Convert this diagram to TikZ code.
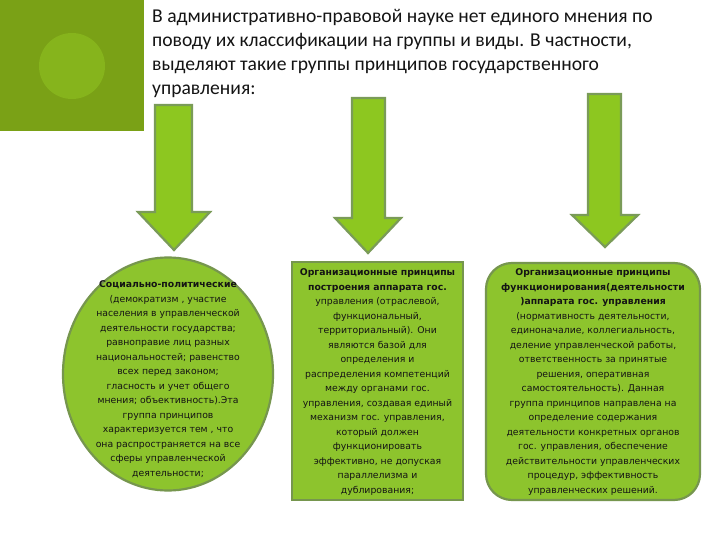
\documentclass[tikz,border=0pt]{standalone}
\usepackage{fontspec}
\setmainfont{Carlito}
\newfontfamily\boxfont{DejaVu Sans}
\usetikzlibrary{shapes.geometric}
\definecolor{headgreen}{RGB}{122,161,22}
\definecolor{dotgreen}{RGB}{134,180,28}
\definecolor{arrowfill}{RGB}{141,199,32}
\definecolor{arrowedge}{RGB}{122,155,88}
\definecolor{shapefill}{RGB}{141,196,45}
\definecolor{shapeedge}{RGB}{118,150,78}
\definecolor{ink}{RGB}{20,20,20}
\tikzset{
  blockarrow/.style={fill=arrowfill, draw=arrowedge, line width=2.2pt, line join=miter},
  groupshape/.style={fill=shapefill, draw=shapeedge, line width=2.2pt, inner sep=0pt},
  bodytext/.style={align=center, text=ink, inner sep=0pt,
    font=\boxfont\fontsize{9.3pt}{14.5pt}\selectfont},
}
\begin{document}
\begin{tikzpicture}[x=1pt,y=-1pt]
\useasboundingbox (0,0) rectangle (720,540);
\fill[white] (0,0) rectangle (720,540);
% header block
\node[fill=headgreen, minimum width=144pt, minimum height=131pt, anchor=north west, inner sep=0pt] (head) at (0,0) {};
\node[circle, fill=dotgreen, minimum size=66pt, inner sep=0pt] (dot) at (72,66) {};
\node[anchor=north west, align=left, inner sep=0pt, text=ink,
  font=\fontsize{19.6pt}{24pt}\selectfont] (title) at (152,9.5)
  {В административно-правовой науке нет единого мнения по\\
   поводу их классификации на группы и виды. В частности,\\
   выделяют такие группы принципов государственного\\
   управления:};
% arrows
\draw[blockarrow] (155,105) -- (192,105) -- (192,212) -- (210,212) -- (174,250) -- (138,212) -- (155,212) -- cycle;
\draw[blockarrow] (352,98) -- (385,98) -- (385,218) -- (401,218) -- (368,253) -- (335,218) -- (352,218) -- cycle;
\draw[blockarrow] (588,94) -- (621,94) -- (621,215) -- (638,215) -- (605,247) -- (572,215) -- (588,215) -- cycle;
% shapes
\node[groupshape, ellipse, minimum width=210pt, minimum height=233pt] (social) at (168,374) {};
\node[groupshape, rectangle, minimum width=171pt, minimum height=238pt] (build) at (377.5,381) {};
\node[groupshape, rectangle, rounded corners=26pt, minimum width=214pt, minimum height=237pt] (func) at (593,381.5) {};
% texts
\node[bodytext] (socialtext) at (168,379)
  {\textbf{Социально-политические}\\
   (демократизм , участие\\
   населения в управленческой\\
   деятельности государства;\\
   равноправие лиц разных\\
   национальностей; равенство\\
   всех перед законом;\\
   гласность и учет общего\\
   мнения; объективность).Эта\\
   группа принципов\\
   характеризуется тем , что\\
   она распространяется на все\\
   сферы управленческой\\
   деятельности;};
\node[bodytext] (buildtext) at (377.5,382)
  {\textbf{Организационные принципы}\\
   \textbf{построения аппарата гос.}\\
   управления (отраслевой,\\
   функциональный,\\
   территориальный). Они\\
   являются базой для\\
   определения и\\
   распределения компетенций\\
   между органами гос.\\
   управления, создавая единый\\
   механизм  гос. управления,\\
   который должен\\
   функционировать\\
   эффективно, не допуская\\
   параллелизма и\\
   дублирования;};
\node[bodytext] (functext) at (593,382)
  {\textbf{Организационные принципы}\\
   \textbf{функционирования(деятельности}\\
   \textbf{)аппарата гос. управления}\\
   (нормативность деятельности,\\
   единоначалие, коллегиальность,\\
   деление управленческой работы,\\
   ответственность за принятые\\
   решения, оперативная\\
   самостоятельность). Данная\\
   группа принципов направлена на\\
   определение содержания\\
   деятельности конкретных органов\\
   гос. управления, обеспечение\\
   действительности управленческих\\
   процедур, эффективность\\
   управленческих решений.};
\end{tikzpicture}
\end{document}
